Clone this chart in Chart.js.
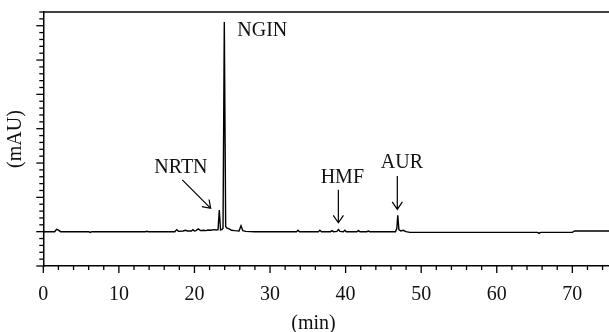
<!DOCTYPE html>
<html>
<head>
<meta charset="utf-8">
<script src="https://cdn.jsdelivr.net/npm/chart.js@4.4.0/dist/chart.umd.min.js"></script>
<style>
  html, body { margin: 0; padding: 0; background: #fff; }
  #chart { display: block; }
</style>
</head>
<body>
<canvas id="chart" width="609" height="332"></canvas>
<script>
// retention time (min) and detector response (arbitrary mAU units, 1 = one major tick)
const retention_time = [
  0, 1.5, 1.75, 1.95, 2.3, 6.0, 6.2, 6.4, 13.5, 13.7, 13.9,
  17.4, 17.65, 17.9, 18.5, 18.8, 19.1, 19.6, 19.8, 20.0, 20.2, 20.5, 20.8,
  21.2, 21.5, 21.8, 22.2, 22.6, 22.9, 23.12, 23.29, 23.45, 23.62, 23.78,
  23.95, 24.13, 24.3, 24.6, 24.9, 25.3, 25.9, 26.16, 26.4, 26.8, 28.0,
  33.5, 33.7, 33.9, 36.4, 36.6, 36.8, 38.0, 38.2, 38.4, 38.85, 39.04, 39.25,
  39.7, 39.9, 40.1, 41.5, 41.7, 41.9, 42.8, 43.0, 43.2,
  46.6, 46.78, 46.9, 47.05, 47.3, 47.6, 48.0, 48.5,
  65.4, 65.6, 65.8, 70.0, 70.3, 74.85
];
const absorbance = [
  0, 0, 0.07, 0.05, 0, 0, -0.02, 0, 0, 0.01, 0,
  0, 0.06, 0.01, 0.02, 0.04, 0.02, 0.02, 0.06, 0.02, 0.03, 0.08, 0.03,
  0.04, 0.03, 0.05, 0.04, 0.06, 0.05, 0.06, 0.63, 0.05, 0.06, 0.1,
  6.11, 0.15, 0.1, 0.08, 0.04, 0.03, 0.02, 0.17, 0.03, 0.01, 0,
  0, 0.04, 0, 0, 0.04, 0, 0, 0.03, 0, 0.01, 0.06, 0.01,
  0, 0.04, 0, 0, 0.03, 0, 0, 0.02, 0,
  0, 0.1, 0.48, 0.06, 0.02, 0.04, 0, -0.02,
  -0.02, -0.05, -0.02, -0.02, 0.02, 0.02
];

// x tick labels every 10 min
const x_tick_labels = ["0", "10", "20", "30", "40", "50", "60", "70"];

// peak labels
const peak_names = ["NRTN", "NGIN", "HMF", "AUR"];
const peak_text_x = [14.69, 25.67, 36.7, 44.65];
const peak_text_y = [1.70, 5.69, 1.43, 1.85];
const arrow_from = [[18.39, 1.51], null, [39.04, 1.22], [46.84, 1.62]];
const arrow_to = [[22.15, 0.68], null, [39.04, 0.26], [46.84, 0.65]];

const serif = "'Liberation Serif', 'DejaVu Serif', serif";

function dictionary_scatter(xs, ys) {
  return xs.map((x, i) => ({ x: x, y: ys[i] }));
}

const decor = {
  id: "decor",
  afterDraw(chart) {
    const ctx = chart.ctx;
    const xs = chart.scales.x;
    const ys = chart.scales.y;
    const area = chart.chartArea;
    ctx.save();
    ctx.strokeStyle = "#000";
    ctx.lineWidth = 1.5;

    // top frame line
    ctx.beginPath();
    ctx.moveTo(area.left, area.top);
    ctx.lineTo(area.right, area.top);
    ctx.stroke();

    // tick marks, major and minor
    ctx.lineWidth = 1.3;
    xs.ticks.forEach((t) => {
      const px = xs.getPixelForValue(t.value);
      const len = Math.abs(t.value % 10) < 1e-6 ? 7 : 4;
      ctx.beginPath();
      ctx.moveTo(px, area.bottom);
      ctx.lineTo(px, area.bottom + len);
      ctx.stroke();
    });
    ys.ticks.forEach((t) => {
      const py = ys.getPixelForValue(t.value);
      const len = Math.abs(t.value - Math.round(t.value)) < 1e-6 ? 7 : 4;
      ctx.beginPath();
      ctx.moveTo(area.left, py);
      ctx.lineTo(area.left - len, py);
      ctx.stroke();
    });

    // peak labels and arrows
    ctx.fillStyle = "#111";
    ctx.font = "20px " + serif;
    ctx.textAlign = "left";
    ctx.textBaseline = "alphabetic";
    ctx.lineWidth = 1.2;
    peak_names.forEach((name, i) => {
      ctx.fillText(name, xs.getPixelForValue(peak_text_x[i]), ys.getPixelForValue(peak_text_y[i]));
      if (!arrow_from[i]) return;
      const x1 = xs.getPixelForValue(arrow_from[i][0]);
      const y1 = ys.getPixelForValue(arrow_from[i][1]);
      const x2 = xs.getPixelForValue(arrow_to[i][0]);
      const y2 = ys.getPixelForValue(arrow_to[i][1]);
      const ang = Math.atan2(y2 - y1, x2 - x1);
      const head = 9;
      ctx.beginPath();
      ctx.moveTo(x1, y1);
      ctx.lineTo(x2, y2);
      ctx.moveTo(x2 - head * Math.cos(ang - 0.6), y2 - head * Math.sin(ang - 0.6));
      ctx.lineTo(x2, y2);
      ctx.lineTo(x2 - head * Math.cos(ang + 0.6), y2 - head * Math.sin(ang + 0.6));
      ctx.stroke();
    });

    // x axis title
    ctx.textAlign = "center";
    ctx.fillText("(min)", xs.getPixelForValue(35.75), 329);
    ctx.restore();
  },
};

const config = {
  type: "line",
  data: {
    datasets: [
      {
        label: "Chromatogram",
        data: dictionary_scatter(retention_time, absorbance),
        borderColor: "#000",
        borderWidth: 1.4,
        pointRadius: 0,
        fill: false,
        tension: 0,
      },
    ],
  },
  options: {
    responsive: false,
    animation: false,
    devicePixelRatio: 1,
    layout: { padding: { top: 12, right: 0, left: 0, bottom: 0 } },
    plugins: {
      legend: { display: false },
      tooltip: { enabled: false },
    },
    scales: {
      x: {
        type: "linear",
        min: 0,
        max: 74.85,
        grid: {
          display: true,
          drawOnChartArea: false,
          drawTicks: true,
          tickLength: 7,
          color: "rgba(0,0,0,0)",
        },
        border: { display: true, color: "#000", width: 1.5 },
        ticks: {
          stepSize: 2,
          autoSkip: false,
          maxTicksLimit: 100,
          includeBounds: false,
          maxRotation: 0,
          padding: 10,
          color: "#111",
          font: { family: serif, size: 20 },
          callback: (v) => (Math.abs(v % 10) < 1e-6 ? x_tick_labels[v / 10] : ""),
        },
        afterFit: (s) => {
          s.height = 66;
          s.paddingRight = 0;
        },
      },
      y: {
        min: -1,
        max: 6.4,
        grid: {
          display: true,
          drawOnChartArea: false,
          drawTicks: true,
          tickLength: 7,
          color: "rgba(0,0,0,0)",
        },
        border: { display: true, color: "#000", width: 1.5 },
        ticks: { display: false, stepSize: 0.2, maxTicksLimit: 100 },
        title: {
          display: true,
          text: "(mAU)",
          color: "#111",
          font: { family: serif, size: 20 },
          padding: { top: 4, bottom: 0 },
        },
        afterFit: (s) => { s.width = 43.3; },
      },
    },
  },
  plugins: [decor],
};

new Chart(document.getElementById("chart"), config);
</script>
</body>
</html>
